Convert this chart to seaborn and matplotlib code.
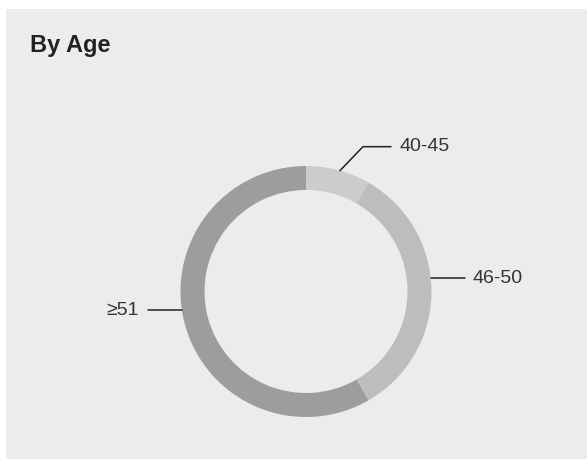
import numpy as np
import matplotlib
matplotlib.use('Agg')
import matplotlib.pyplot as plt
import seaborn as sns
from matplotlib.patches import Rectangle

# ── Data ──────────────────────────────────────────────
age_groups = ['40-45', '46-50', '≥51']
shares = [8.3, 33.4, 58.3]
colors = ['#cccccc', '#bdbdbb', '#9d9d9b']

# where each leader line touches the ring (deg, clockwise from top)
label_angles = [15.7, 84.0, 261.4]

# ── Style ─────────────────────────────────────────────
sns.set_theme(style='white')
plt.rcParams['font.family'] = ['Liberation Sans', 'DejaVu Sans']

W, H = 587, 459
fig = plt.figure(figsize=(W / 100, H / 100), dpi=100)
fig.patch.set_facecolor('white')
fig.patches.append(Rectangle((6 / W, 0), (W - 6) / W, (H - 9) / H,
                             transform=fig.transFigure, facecolor='#ececec',
                             edgecolor='none', zorder=-10))

fig.text(30 / W, 1 - 52 / H, 'By Age', fontsize=17, fontweight='bold',
         color='#222222', va='baseline', ha='left')

# ring centred at (306, 291.5) px, outer radius 125.5 px
cx, cy, R = 306, 291.5, 125.5
ax = fig.add_axes([(cx - R) / W, (H - cy - R) / H, 2 * R / W, 2 * R / H])
ax.set_facecolor('none')
ax.pie(shares, colors=colors, startangle=90, counterclock=False,
       radius=1, wedgeprops=dict(width=24 / R, linewidth=0))
ax.set_xlim(-1, 1)
ax.set_ylim(-1, 1)
ax.set_aspect('equal')
ax.axis('off')

line_kw = dict(color='#222222', lw=1.1, clip_on=False)
text_kw = dict(fontsize=14, color='#333333', va='center')
for name, ang in zip(age_groups, label_angles):
    a = np.deg2rad(ang)
    x0, y0 = np.sin(a), np.cos(a)
    if name == '40-45':
        x1, y1 = x0 + 23 / R, y0 + 24 / R
        x2 = x1 + 28 / R
        ax.plot([x0, x1, x2], [y0, y1, y1], **line_kw)
        ax.text(x2 + 9 / R, y1, name, ha='left', **text_kw)
    elif x0 > 0:
        x2 = x0 + 34 / R
        ax.plot([x0, x2], [y0, y0], **line_kw)
        ax.text(x2 + 8 / R, y0, name, ha='left', **text_kw)
    else:
        x2 = x0 - 34 / R
        ax.plot([x0, x2], [y0, y0], **line_kw)
        ax.text(x2 - 9 / R, y0, name, ha='right', **text_kw)

fig.savefig('out.png', dpi=100)
